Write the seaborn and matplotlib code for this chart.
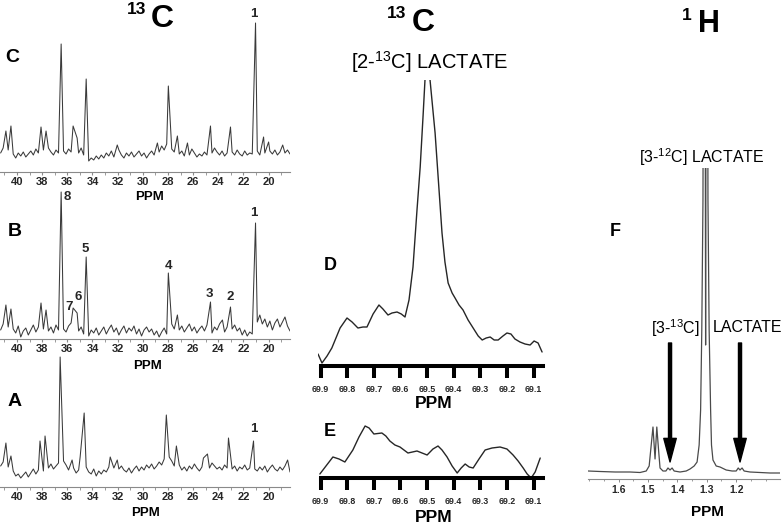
import numpy as np
import pandas as pd
import matplotlib
matplotlib.use("Agg")
from matplotlib import pyplot as plt
from matplotlib.ticker import MultipleLocator
import seaborn as sns

# ---- values --------------------------------------------------------------
# 13C spectra A-C: noise floor sampled every 0.2 ppm from 41.3 ppm down,
# plus the resolved peaks (ppm, height). Heights in arbitrary units.
NOISE_START = 41.3
NOISE_STEP = -0.2

C_NOISE = [19, 24, 17, 22, 15, 18, 14, 19, 16, 20,
           15, 18, 21, 17, 23, 19, 16, 22, 18, 24,
           20, 17, 22, 19, 25, 21, 18, 23, 20, 26,
           22, 19, 24, 17, 13, 11, 14, 12, 16, 13,
           17, 14, 19, 16, 21, 15, 18, 22, 17, 14,
           19, 16, 20, 15, 18, 21, 16, 19, 14, 18,
           21, 17, 24, 20, 26, 22, 28, 25, 23, 20,
           24, 18, 21, 16, 20, 17, 23, 19, 15, 18,
           16, 20, 17, 22, 19, 24, 20, 17, 21, 16,
           19, 15, 20, 17, 22, 18, 16, 21, 17, 19,
           18, 24, 21, 17, 23, 19, 16, 21, 18, 22,
           17, 20, 16, 19, 22, 18]
C_PEAK_PPM = [40.88, 40.48, 38.09, 37.69, 36.49, 35.54, 35.22, 34.50, 32.03, 28.84,
              27.97, 27.25, 26.45, 24.62, 23.03, 21.04, 20.40, 20.00, 18.88]
C_PEAK_INT = [41, 46, 45, 41, 128, 46, 34, 93, 27, 29,
              86, 36, 29, 46, 45, 149, 35, 30, 27]

B_NOISE = [9, 15, 5, 12, 3, 10, 6, 13, 2, 8,
           11, 4, 9, 14, 7, 12, 5, 10, 13, 8,
           12, 6, 14, 9, 15, 10, 7, 13, 16, 11,
           14, 8, 12, 5, 10, 3, 9, 6, 11, 4,
           8, 12, 5, 10, 14, 7, 11, 4, 9, 13,
           6, 11, 8, 13, 5, 10, 3, 9, 12, 7,
           10, 4, 8, 2, 7, 11, 5, 12, 15, 10,
           14, 9, 13, 7, 11, 15, 8, 12, 6, 10,
           13, 8, 14, 10, 6, 12, 9, 15, 11, 7,
           12, 5, 10, 14, 8, 11, 4, 9, 3, 7,
           5, 22, 17, 24, 15, 20, 12, 18, 9, 16,
           20, 12, 17, 22, 13, 8]
B_PEAK_PPM = [36.49, 35.54, 35.22, 34.50, 27.97, 24.62, 23.03, 21.04,
              40.88, 40.48, 38.09, 37.69, 27.25, 23.67]
B_PEAK_INT = [147, 31, 26, 82, 66, 37, 32, 116,
              34, 30, 36, 29, 24, 19]
B_PEAK_LABELS = ["8", "7", "6", "5", "4", "3", "2", "1"]

A_NOISE = [21, 25, 17, 20, 14, 16, 11, 13, 9, 12,
           15, 10, 14, 18, 13, 17, 20, 16, 22, 19,
           23, 18, 21, 24, 19, 26, 22, 17, 15, 19,
           14, 17, 12, 16, 20, 15, 13, 18, 11, 16,
           13, 17, 15, 20, 16, 19, 14, 18, 21, 17,
           15, 19, 14, 18, 21, 16, 20, 17, 22, 19,
           23, 18, 21, 25, 22, 28, 24, 30, 26, 21,
           18, 22, 17, 20, 16, 21, 18, 23, 19, 16,
           20, 17, 22, 19, 24, 21, 18, 20, 17, 22,
           19, 23, 18, 21, 16, 20, 18, 22, 17, 19,
           21, 18, 16, 20, 17, 21, 15, 19, 22, 18,
           16, 20, 17, 21, 18, 15]
A_PEAK_PPM = [40.88, 40.48, 38.17, 37.77, 36.57, 35.62, 34.98, 34.66, 32.59, 32.03,
              28.13, 27.33, 25.18, 24.86, 23.19, 21.20, 18.49]
A_PEAK_INT = [44, 31, 46, 51, 130, 27, 30, 74, 30, 27,
              72, 41, 29, 33, 49, 46, 27]
PEAK1_PPM = {"C": 21.04, "A": 21.20}

# D / E: [2-13C] lactate region
D_PPM = [69.910, 69.895, 69.876, 69.858, 69.827, 69.801, 69.782, 69.760, 69.741, 69.726,
         69.703, 69.681, 69.666, 69.647, 69.632, 69.613, 69.597, 69.583, 69.568, 69.553,
         69.538, 69.526, 69.515, 69.508, 69.498, 69.489, 69.470, 69.457, 69.444, 69.433,
         69.421, 69.406, 69.395, 69.380, 69.365, 69.346, 69.327, 69.308, 69.293, 69.278,
         69.263, 69.248, 69.233, 69.215, 69.200, 69.185, 69.170, 69.151, 69.132, 69.113,
         69.098, 69.083, 69.068]
D_INT = [12, 3, 10, 18, 38, 48, 44, 38, 39, 39,
         52, 61, 57, 51, 53, 54, 52, 49, 66, 99,
         156, 199, 251, 286, 700, 286, 233, 183, 133, 104,
         83, 73, 68, 61, 56, 46, 38, 30, 26, 28,
         29, 26, 26, 30, 33, 32, 27, 24, 22, 21,
         25, 23, 14]

E_PPM = [69.903, 69.880, 69.854, 69.831, 69.809, 69.779, 69.756, 69.733, 69.718, 69.700,
         69.670, 69.655, 69.640, 69.621, 69.602, 69.572, 69.538, 69.500, 69.478, 69.459,
         69.444, 69.425, 69.406, 69.387, 69.372, 69.357, 69.342, 69.327, 69.305, 69.282,
         69.256, 69.226, 69.200, 69.177, 69.158, 69.139, 69.124, 69.109, 69.094, 69.075]
E_INT = [4, 12, 21, 19, 16, 28, 41, 52, 50, 44,
         45, 42, 37, 33, 31, 25, 27, 23, 29, 32,
         28, 21, 12, 5, 10, 14, 11, 10, 19, 28,
         30, 31, 29, 23, 17, 10, 4, 0, 6, 20]

# F: 1H spectrum
F_PPM = [1.704, 1.663, 1.612, 1.561, 1.527, 1.506, 1.496, 1.489, 1.483, 1.476,
         1.470, 1.464, 1.459, 1.449, 1.439, 1.432, 1.425, 1.418, 1.411, 1.391,
         1.370, 1.357, 1.343, 1.333, 1.326, 1.321, 1.317, 1.313, 1.308, 1.304,
         1.300, 1.296, 1.292, 1.287, 1.284, 1.279, 1.268, 1.255, 1.234, 1.214,
         1.200, 1.193, 1.187, 1.180, 1.173, 1.153, 1.119, 1.085, 1.051]
F_INT = [8, 7.5, 7, 7, 6.5, 8, 13, 34, 52, 20,
         52, 29, 11, 8, 8, 11, 9, 11, 8, 7,
         8, 10, 13, 17, 34, 69, 149, 279, 900, 134,
         900, 279, 149, 69, 34, 19, 13, 12, 9, 8,
         8, 11, 9, 11, 8, 7, 6.5, 6, 6]
F_SATELLITE_PPM = [1.425, 1.187]

# ---- style ---------------------------------------------------------------
sns.set_style("ticks")
plt.rcParams["font.family"] = ["Liberation Sans", "DejaVu Sans"]
plt.rcParams["mathtext.fontset"] = "custom"
plt.rcParams["mathtext.rm"] = "Liberation Sans"
plt.rcParams["mathtext.bf"] = "Liberation Sans:bold"

LINE = "#3a3a3a"
AXIS_GRAY = "#8a8a8a"
W, H = 784, 526

fig = plt.figure(figsize=(W / 100, H / 100), dpi=100)


def box(x0, y0, x1, y1):
    # pixel box (top-left origin) -> figure fraction
    return [x0 / W, 1 - y1 / H, (x1 - x0) / W, (y1 - y0) / H]


def label(x, y, s, size, weight="bold"):
    fig.text(x / W, 1 - y / H, s, ha="center", va="center",
             fontsize=size, fontweight=weight, color="black")


def spectrum_13c(noise, peak_ppm, peak_int):
    noise_ppm = NOISE_START + NOISE_STEP * np.arange(len(noise))
    dist = np.abs(noise_ppm[:, None] - np.array(peak_ppm)[None, :]).min(axis=1)
    keep = dist > 0.1
    return pd.DataFrame({
        "ppm": np.concatenate([noise_ppm[keep], peak_ppm]),
        "intensity": np.concatenate([np.array(noise, dtype=float)[keep], peak_int]),
    })


def style_13c(ax, ymax):
    ax.set_xlim(41.35, 18.3)
    ax.set_ylim(0, ymax)
    ax.set_facecolor("none")
    for s in ["top", "right", "left"]:
        ax.spines[s].set_visible(False)
    ax.spines["bottom"].set_color(AXIS_GRAY)
    ax.spines["bottom"].set_linewidth(0.8)
    ticks = list(range(40, 19, -2))
    ax.set_xticks(ticks)
    ax.set_xticklabels([str(t) for t in ticks], fontweight="bold", fontsize=8)
    ax.xaxis.set_minor_locator(MultipleLocator(1))
    ax.tick_params(axis="x", which="major", length=2.5, width=0.8, color=AXIS_GRAY, pad=1.2)
    ax.tick_params(axis="x", which="minor", length=1.8, width=0.6, color=AXIS_GRAY)
    ax.set_yticks([])
    ax.set(xlabel="", ylabel="")


# ---- 13C panels C, B, A --------------------------------------------------
ax_c = fig.add_axes(box(0, 10, 290, 172))
ax_b = fig.add_axes(box(0, 185, 290, 339))
ax_a = fig.add_axes(box(0, 345, 290, 487))

for ax, noise, pp, pi, ymax in [(ax_c, C_NOISE, C_PEAK_PPM, C_PEAK_INT, 162),
                                 (ax_b, B_NOISE, B_PEAK_PPM, B_PEAK_INT, 154),
                                 (ax_a, A_NOISE, A_PEAK_PPM, A_PEAK_INT, 142)]:
    df = spectrum_13c(noise, pp, pi)
    sns.lineplot(data=df, x="ppm", y="intensity", ax=ax, color=LINE,
                 linewidth=0.75, estimator=None)
    style_13c(ax, ymax)

# numbered peaks in B (offsets in pixels: dx, dy upward)
b_offsets = {"8": (6, -5), "7": (-4, 1), "6": (1, 16), "5": (-1, 8),
             "4": (0, 7), "3": (-1, 8), "2": (0, 10), "1": (-2, 10)}
for lab, p, h in zip(B_PEAK_LABELS, B_PEAK_PPM, B_PEAK_INT):
    dx, dy = b_offsets[lab]
    ax_b.annotate(lab, (p, h), xytext=(dx * 0.72, dy * 0.72), textcoords="offset points",
                  ha="center", va="center", fontsize=9.5, fontweight="bold")

c_idx = C_PEAK_PPM.index(PEAK1_PPM["C"])
ax_c.annotate("1", (PEAK1_PPM["C"], C_PEAK_INT[c_idx]), xytext=(-2 * 0.72, 9 * 0.72),
              textcoords="offset points", ha="center", va="center",
              fontsize=9.5, fontweight="bold", annotation_clip=False)
a_idx = A_PEAK_PPM.index(PEAK1_PPM["A"])
ax_a.annotate("1", (PEAK1_PPM["A"], A_PEAK_INT[a_idx]), xytext=(0, 12 * 0.72),
              textcoords="offset points", ha="center", va="center",
              fontsize=9.5, fontweight="bold")

# ---- D / E panels --------------------------------------------------------
ax_d = fig.add_axes(box(318, 80, 545, 366))
ax_e = fig.add_axes(box(318, 420, 545, 478))
for ax, xs, ys, ymax in [(ax_d, D_PPM, D_INT, 286), (ax_e, E_PPM, E_INT, 58)]:
    sns.lineplot(x=xs, y=ys, ax=ax, color="#262626", linewidth=1.0, estimator=None)
    ax.set_xlim(69.91, 69.057)
    ax.set_ylim(0, ymax)
    ax.set_facecolor("none")
    for s in ["top", "right", "left"]:
        ax.spines[s].set_visible(False)
    ax.spines["bottom"].set_color("black")
    ax.spines["bottom"].set_linewidth(2.9)
    ax.spines["bottom"].set_bounds(69.064, 69.9)
    ticks = [69.9, 69.8, 69.7, 69.6, 69.5, 69.4, 69.3, 69.2, 69.1]
    ax.set_xticks(ticks)
    ax.set_xticklabels([f"{t:.1f}" for t in ticks], fontweight="bold", fontsize=6.3)
    ax.tick_params(axis="x", length=8.6, width=2.9, color="black", pad=5)
    ax.set_yticks([])
    ax.set(xlabel="", ylabel="")

# ---- F panel -------------------------------------------------------------
ax_f = fig.add_axes(box(588, 168, 780, 479))
sns.lineplot(x=F_PPM, y=F_INT, ax=ax_f, color="#4a4a4a", linewidth=0.9, estimator=None)
ax_f.set_xlim(1.704, 1.051)
ax_f.set_ylim(0, 311)
ax_f.set_facecolor("none")
for s in ["top", "right", "left"]:
    ax_f.spines[s].set_visible(False)
ax_f.spines["bottom"].set_color(AXIS_GRAY)
ax_f.spines["bottom"].set_linewidth(0.8)
f_ticks = [1.6, 1.5, 1.4, 1.3, 1.2]
ax_f.set_xticks(f_ticks)
ax_f.set_xticklabels([f"{t:.1f}" for t in f_ticks], fontweight="bold", fontsize=7.5)
ax_f.xaxis.set_minor_locator(MultipleLocator(0.05))
ax_f.tick_params(axis="x", which="major", length=2, width=0.7, color=AXIS_GRAY, pad=2.4)
ax_f.tick_params(axis="x", which="minor", length=1.5, width=0.6, color=AXIS_GRAY)
ax_f.set_yticks([])
ax_f.set(xlabel="", ylabel="")

for p in F_SATELLITE_PPM:
    ax_f.annotate("", xy=(p, 17), xytext=(p, 136),
                  arrowprops=dict(facecolor="black", edgecolor="black", width=2.2,
                                  headwidth=9, headlength=17, shrink=0))

# ---- titles and labels ---------------------------------------------------
label(137, 10, "13", 12.5)
label(162, 19, "C", 23)
label(397, 14, "13", 12.5)
label(423, 23, "C", 23)
label(687, 15, "1", 12.5)
label(709, 24, "H", 22)

label(12, 57, "C", 14)
label(15, 232, "B", 14)
label(15, 402, "A", 14)
label(330, 265, "D", 13)
label(330, 432, "E", 13)
label(615, 232, "F", 13)

label(149, 197, "PPM", 9.5)
label(147, 366, "PPM", 9.5)
label(146, 513, "PPM", 9.5)
label(434, 403, "PPM", 12.5)
label(434, 517, "PPM", 12.5)
label(707, 512, "PPM", 11)

label(430, 62, r"[2-$^{13}$C] LACTATE", 14.5, weight="normal")
label(702, 157, r"[3-$^{12}$C] LACTATE", 11.5, weight="normal")
label(675, 328, r"[3-$^{13}$C]", 11.5, weight="normal")
label(748, 328, "LACTATE", 11.5, weight="normal")

fig.savefig("out.png", dpi=100)
